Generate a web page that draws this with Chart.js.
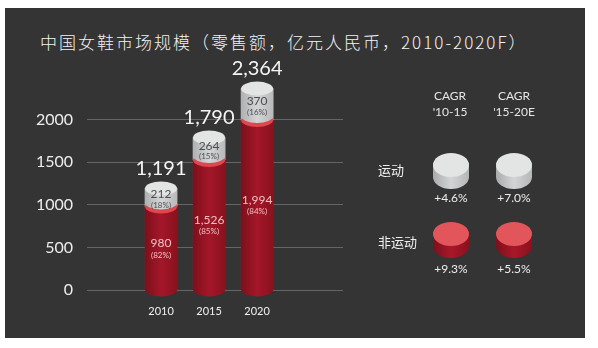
<!DOCTYPE html>
<html>
<head>
<meta charset="utf-8">
<script src="https://cdn.jsdelivr.net/npm/chart.js@4"></script>
<style>
  body { margin: 0; background: #fff; width: 598px; height: 348px; overflow: hidden; position: relative; font-family: Lato, "Noto Sans CJK SC", sans-serif; }
  #panel { position: absolute; left: 5px; top: 8px; width: 580px; height: 330px; background: #343434; }
  #title { position: absolute; left: 40px; top: 29px; color: #f2f2f2; font-size: 17px; letter-spacing: 2px; white-space: nowrap; font-family: "Noto Sans CJK SC", sans-serif; font-weight: 300; }
  #wrap { position: absolute; left: 0; top: 0; width: 598px; height: 348px; }
  .hd { position: absolute; color: #e6e6e6; font-size: 12px; text-align: center; width: 70px; line-height: 16px; }
  .row { position: absolute; color: #f0f0f0; font-size: 13px; font-family: "Noto Sans CJK SC", sans-serif; line-height: 18px; }
  .pct { position: absolute; color: #eee; font-size: 12px; width: 60px; text-align: center; line-height: 16px; }
  .cyl { position: absolute; width: 36px; height: 36px; }
  .cyl .b { position: absolute; top: 12px; left: 0; width: 36px; height: 24px; border-radius: 0 0 18px 18px / 0 0 12px 12px; }
  .cyl .c { position: absolute; top: 0; left: 0; width: 36px; height: 24px; border-radius: 50%; }
  .grey .b { background: linear-gradient(90deg, #a9abad, #d2d4d5 50%, #b4b6b8); }
  .grey .c { background: #e3e4e4; }
  .red .b { background: linear-gradient(90deg, #7e0f1a, #a8172a 50%, #8a111d); }
  .red .c { background: #e2555b; }
</style>
</head>
<body>
<div id="panel"></div>
<div id="title">中国女鞋市场规模（零售额，亿元人民币，2010-2020F）</div>
<div id="wrap"><canvas id="chart" width="598" height="348"></canvas></div>

<div class="hd" style="left:415px;top:88px">CAGR<br>'10-15</div>
<div class="hd" style="left:479px;top:88px">CAGR<br>'15-20E</div>
<div class="row" style="left:378px;top:161px">运动</div>
<div class="row" style="left:378px;top:233px">非运动</div>
<div class="cyl grey" style="left:433px;top:153px"><div class="b"></div><div class="c"></div></div>
<div class="cyl grey" style="left:496px;top:153px"><div class="b"></div><div class="c"></div></div>
<div class="cyl red" style="left:433px;top:222px"><div class="b"></div><div class="c"></div></div>
<div class="cyl red" style="left:496px;top:222px"><div class="b"></div><div class="c"></div></div>
<div class="pct" style="left:421px;top:190px">+4.6%</div>
<div class="pct" style="left:484px;top:190px">+7.0%</div>
<div class="pct" style="left:421px;top:261px">+9.3%</div>
<div class="pct" style="left:484px;top:261px">+5.5%</div>

<script>
const years = ['2010', '2015', '2020'];
const nonSport = [980, 1526, 1994];
const sport = [212, 264, 370];
const nonSportShare = ['82%', '85%', '84%'];
const sportShare = ['18%', '15%', '16%'];
const totals = ['1,191', '1,790', '2,364'];
const yTicks = [0, 500, 1000, 1500, 2000];

const RY = 7;

function drawCyl(ctx, el, colors, cap, lift) {
  const { x, y, base, width } = el.getProps(['x', 'y', 'base', 'width'], true);
  const rx = width / 2;
  const bottom = base - lift;
  const g = ctx.createLinearGradient(x - rx, 0, x + rx, 0);
  g.addColorStop(0, colors[0]);
  g.addColorStop(0.5, colors[1]);
  g.addColorStop(1, colors[2]);
  ctx.fillStyle = g;
  ctx.beginPath();
  ctx.moveTo(x - rx, y);
  ctx.lineTo(x - rx, bottom);
  ctx.ellipse(x, bottom, rx, RY, 0, Math.PI, 0, true);
  ctx.lineTo(x + rx, y);
  ctx.closePath();
  ctx.fill();
  ctx.fillStyle = cap;
  ctx.beginPath();
  ctx.ellipse(x, y, rx, RY, 0, 0, Math.PI * 2);
  ctx.fill();
}

// cylinders + labels on top of the library's bars
const cylinders = {
  id: 'cylinders',
  afterDatasetsDraw(chart) {
    const ctx = chart.ctx;
    const red = chart.getDatasetMeta(0).data;
    const grey = chart.getDatasetMeta(1).data;
    ctx.save();
    years.forEach((_, i) => {
      drawCyl(ctx, red[i], ['#7e0f1a', '#a3172a', '#8a111d'], '#df474e', 0);
      drawCyl(ctx, grey[i], ['#aeb0b2', '#d3d5d6', '#b7b9bb'], '#e3e4e4', 4);
    });

    ctx.textAlign = 'center';
    ctx.textBaseline = 'middle';
    years.forEach((_, i) => {
      const r = red[i], g = grey[i];
      // total above
      ctx.fillStyle = '#f5f5f5';
      ctx.font = '20px Lato';
      ctx.textBaseline = 'bottom';
      ctx.fillText(totals[i], g.x, g.y - RY - 3);
      ctx.textBaseline = 'middle';
      // sport label
      const gm = (g.y + g.base) / 2;
      ctx.fillStyle = '#4d4d4d';
      ctx.font = '12px Lato';
      ctx.fillText(sport[i].toLocaleString('en-US'), g.x, gm - 3);
      ctx.font = '8px Lato';
      ctx.fillText('(' + sportShare[i] + ')', g.x, gm + 8);
      // non-sport label
      const rm = (r.y + r.base) / 2;
      ctx.fillStyle = '#f2c0c0';
      ctx.font = '12px Lato';
      ctx.fillText(nonSport[i].toLocaleString('en-US'), r.x, rm - 5);
      ctx.font = '8px Lato';
      ctx.fillText('(' + nonSportShare[i] + ')', r.x, rm + 7);
    });
    ctx.restore();
  }
};

new Chart(document.getElementById('chart'), {
  type: 'bar',
  data: {
    datasets: [
      { label: '非运动', data: nonSport.map((v, i) => ({ x: i, y: v })), backgroundColor: '#9a1424', borderWidth: 0, barThickness: 32 },
      { label: '运动', data: sport.map((v, i) => ({ x: i, y: v })), backgroundColor: '#c9cbcc', borderWidth: 0, barThickness: 32 }
    ]
  },
  options: {
    responsive: false,
    animation: false,
    layout: { padding: { left: 5, right: 255, top: 77, bottom: 28 } },
    plugins: { legend: { display: false }, tooltip: { enabled: false } },
    scales: {
      x: {
        type: 'linear',
        stacked: true,
        min: -0.653,
        max: 2.9,
        afterBuildTicks: s => { s.ticks = years.map((_, i) => ({ value: i })); },
        afterFit: s => { s.height = 30; },
        grid: { display: false },
        border: { display: false },
        ticks: { color: '#f0f0f0', font: { size: 11, family: 'Lato' }, padding: 7, callback: v => years[v] }
      },
      y: {
        stacked: true,
        min: 0,
        max: 2500,
        afterBuildTicks: s => { s.ticks = yTicks.map(v => ({ value: v })); },
        afterFit: s => { s.width = 82; },
        grid: { color: '#656565', drawTicks: false },
        border: { display: false },
        ticks: { color: '#ededed', font: { size: 16, family: 'Lato' }, padding: 14, callback: v => String(v) }
      }
    }
  },
  plugins: [cylinders]
});
</script>
</body>
</html>
